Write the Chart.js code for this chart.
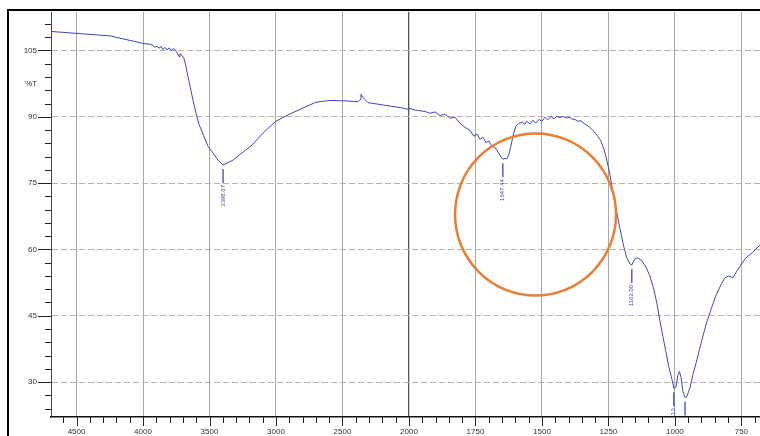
<!DOCTYPE html>
<html>
<head>
<meta charset="utf-8">
<script src="https://cdn.jsdelivr.net/npm/chart.js@4.4.0/dist/chart.umd.min.js"></script>
<style>
html,body{margin:0;padding:0;background:#fff}
canvas{display:block}
</style>
</head>
<body>
<canvas id="c" width="760" height="436"></canvas>
<script>
// FTIR spectrum, wavenumber (cm-1) vs %T
const wavenumbers = [
  4691,4473,4248,4000,3947,3925,3910,3895,3880,3864,3849,3834,3819,3804,3789,3774,3759,3744,3729,3722,
  3707,3692,3677,3662,3646,3624,3601,3579,3549,3511,3474,3436,3398,3323,3248,3180,3120,3060,3000,2932,
  2819,2699,2594,2481,2383,2368,2361,2346,2331,2308,2180,2068,2008,1996,1985,1940,1921,1902,1883,1865,
  1846,1827,1808,1789,1771,1756,1744,1733,1722,1711,1699,1688,1677,1665,1654,1647,1639,1632,1624,1617,
  1609,1598,1587,1575,1564,1557,1545,1534,1523,1511,1500,1489,1478,1466,1455,1444,1432,1421,1409,1398,
  1387,1376,1365,1353,1342,1331,1320,1305,1290,1278,1267,1256,1244,1233,1222,1207,1192,1181,1169,1162,
  1150,1139,1124,1109,1094,1079,1068,1057,1045,1034,1023,1011,1004,996,989,983,977,970,962,955,
  944,932,917,902,883,865,846,827,812,797,782,767,752,733,714,695,680
]
const transmittance = [
  109.3,108.8,108.3,106.6,106.4,106.1,105.7,106.0,105.5,105.9,105.2,105.7,105.1,105.6,105.0,105.4,105.2,104.5,103.6,104.3,
  103.9,103.2,101.4,99.1,96.9,93.7,90.8,88.3,86.1,83.3,81.8,80.2,79.1,80.2,82.0,83.6,85.6,87.4,89.0,90.1,
  91.7,93.3,93.7,93.6,93.4,93.9,95.1,94.4,93.9,93.2,92.6,92.1,91.7,91.9,91.6,91.2,90.8,91.1,90.3,90.6,
  89.7,89.9,88.5,87.6,87.0,85.6,86.1,84.9,85.4,84.2,84.5,83.3,83.1,82.0,80.9,80.4,80.6,80.5,81.5,83.3,
  85.6,87.9,88.5,88.8,88.3,89.0,88.4,89.2,88.6,89.4,89.0,89.9,89.3,90.1,89.5,90.1,89.8,90.1,89.7,89.9,
  89.5,89.4,89.0,89.1,88.5,88.1,87.6,86.7,85.6,84.5,82.7,80.2,76.8,73.0,69.4,64.8,60.6,58.1,56.7,56.5,
  57.9,58.1,57.4,56.0,54.0,50.9,47.9,44.1,40.3,36.9,33.5,30.6,28.6,28.8,31.5,32.4,31.1,27.9,26.5,26.7,
  28.6,31.7,35.1,38.7,43.0,46.3,49.5,52.0,53.6,54.0,53.6,55.1,56.5,58.1,59.0,60.1,61.0
]
const peakWn = [3398,1647,1162,1004,962]
const peakLabels = ['3398.67','1647.44','1162.00','1004.13','962.46']
const xMajorTicks = [4500,4000,3500,3000,2500,2000,1750,1500,1250,1000,750]
const yMajorTicks = [30,45,60,75,90,105]

// axis break at 2000: above it 500 cm-1 get the room of 250
const toAxis = w => w > 2000 ? 2000 + (w-2000)/2 : w
const fromAxis = u => u > 2000 ? 2000 + (u-2000)*2 : u

const xMin = toAxis(680), xMax = toAxis(4692)
const yMin = 22.1, yMax = 113.7
const majorU = xMajorTicks.map(toAxis)
const isMajorX = v => majorU.includes(v)
const isMajorY = v => yMajorTicks.includes(v)
const FONT = 'Liberation Sans, Arial, sans-serif'
const BLUE = '#4444c4'

const points = wavenumbers.map((w,i)=>({x:toAxis(w), y:transmittance[i]}))

const decor = {
  id:'decor',
  afterDraw(chart){
    const {ctx, chartArea:a} = chart
    const xs = chart.scales.x, ys = chart.scales.y
    ctx.save()
    // tick marks
    ctx.strokeStyle = '#222'
    ctx.lineWidth = 1
    ctx.beginPath()
    xs.ticks.forEach(t=>{
      const px = Math.round(xs.getPixelForValue(t.value))+0.5
      const len = isMajorX(t.value) ? 9 : 6
      ctx.moveTo(px, a.bottom); ctx.lineTo(px, a.bottom+len)
    })
    ys.ticks.forEach(t=>{
      const py = Math.round(ys.getPixelForValue(t.value))+0.5
      const len = isMajorY(t.value) ? 13 : 6
      ctx.moveTo(a.left-len, py); ctx.lineTo(a.left, py)
    })
    ctx.stroke()
    // %T unit label
    ctx.fillStyle = '#333'
    ctx.font = '8px ' + FONT
    ctx.textAlign = 'right'
    ctx.textBaseline = 'middle'
    ctx.fillText('%T', 37, ys.getPixelForValue(97.5))

    // peak markers
    ctx.save()
    ctx.beginPath()
    ctx.rect(a.left, a.top, a.right-a.left, a.bottom-a.top)
    ctx.clip()
    ctx.strokeStyle = BLUE
    ctx.fillStyle = BLUE
    ctx.lineWidth = 1.3
    ctx.font = '6px ' + FONT
    peakWn.forEach((w,i)=>{
      const k = wavenumbers.indexOf(w)
      const px = xs.getPixelForValue(toAxis(w))
      const py = ys.getPixelForValue(transmittance[k])
      ctx.beginPath()
      ctx.moveTo(px, py+4); ctx.lineTo(px, py+18)
      ctx.stroke()
      ctx.save()
      ctx.translate(px, py+20)
      ctx.rotate(-Math.PI/2)
      ctx.textAlign = 'right'
      ctx.textBaseline = 'middle'
      ctx.fillText(peakLabels[i], 0, 0)
      ctx.restore()
    })
    ctx.restore()

    // orange highlight circle
    ctx.strokeStyle = '#ed7d31'
    ctx.lineWidth = 2.5
    ctx.beginPath()
    ctx.ellipse(xs.getPixelForValue(toAxis(1524)), ys.getPixelForValue(67.9), 80.5, 81, 0, 0, Math.PI*2)
    ctx.stroke()

    // outer frame
    ctx.fillStyle = '#000'
    ctx.fillRect(7, 9, 2, 427)
    ctx.fillRect(7, 9, 753, 2)
    ctx.restore()
  }
}

new Chart(document.getElementById('c'), {
  type:'line',
  data:{datasets:[{
    data:points,
    borderColor:BLUE,
    borderWidth:1,
    pointRadius:0,
    tension:0,
    fill:false
  }]},
  options:{
    responsive:false,
    devicePixelRatio:1,
    animation:false,
    layout:{padding:{top:12,left:0,right:0,bottom:0}},
    plugins:{legend:{display:false},tooltip:{enabled:false}},
    scales:{
      x:{
        type:'linear',
        reverse:true,
        min:xMin,
        max:xMax,
        afterBuildTicks:s=>{
          const t = []
          for(let u = Math.ceil(xMin/50)*50; u <= xMax; u += 50) t.push({value:u})
          s.ticks = t
        },
        afterFit:s=>{ s.height = 19; s.paddingLeft = 0; s.paddingRight = 0 },
        grid:{
          drawTicks:false,
          color:c=> isMajorX(c.tick.value) ? (c.tick.value===2000 ? '#555' : '#a8a8a8') : 'rgba(0,0,0,0)',
          lineWidth:c=> c.tick && c.tick.value===2000 ? 1.3 : 1
        },
        border:{display:true,color:'#111',width:1.5},
        ticks:{
          autoSkip:false,
          maxRotation:0,
          padding:10,
          color:'#333',
          font:{family:FONT,size:8},
          callback:v=> isMajorX(v) ? String(fromAxis(v)) : ''
        }
      },
      y:{
        type:'linear',
        min:yMin,
        max:yMax,
        afterBuildTicks:s=>{
          const t = []
          for(let v = 24; v <= 111; v += 3) t.push({value:v})
          s.ticks = t
        },
        afterFit:s=>{ s.width = 51; s.paddingTop = 0; s.paddingBottom = 0 },
        grid:{
          drawTicks:false,
          color:c=> isMajorY(c.tick.value) ? '#b4b4b4' : 'rgba(0,0,0,0)'
        },
        border:{display:true,color:'#444',width:1,dash:[6,3]},
        ticks:{
          autoSkip:false,
          padding:14,
          color:'#333',
          font:{family:FONT,size:8},
          callback:v=> isMajorY(v) ? String(v) : ''
        }
      }
    }
  },
  plugins:[decor]
})
</script>
</body>
</html>
